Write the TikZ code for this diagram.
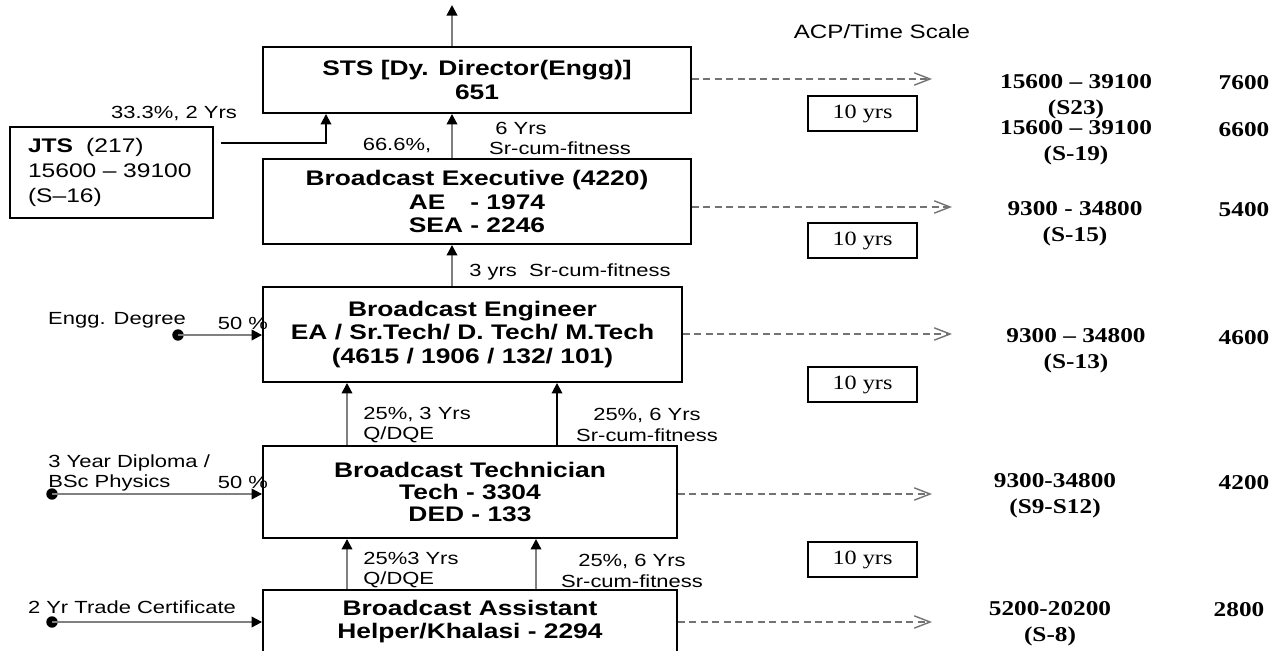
\documentclass[tikz,border=0pt]{standalone}
\usepackage{fontspec}
\setmainfont{Liberation Sans}
\newfontfamily\labf[FakeStretch=1.25]{Liberation Sans}
\newfontfamily\serf[FakeStretch=1.2]{Liberation Serif}
\usetikzlibrary{arrows.meta}
\definecolor{lg}{gray}{0.5}
\definecolor{dg}{gray}{0.45}
\begin{document}
\begin{tikzpicture}[x=0.02cm,y=-0.02cm,
  box/.style={draw=black,line width=1.1pt,inner sep=0pt,align=center,
    font=\labf\bfseries\fontsize{12}{13.6}\selectfont},
  lab/.style={inner sep=0pt,font=\labf\fontsize{10}{11.5}\selectfont},
  pay/.style={inner sep=0pt,align=center,font=\serf\bfseries\fontsize{12}{14.7}\selectfont},
  yrsbox/.style={draw=black,line width=1pt,minimum width=2.18cm,minimum height=0.7cm,
    inner sep=0pt,font=\serf\fontsize{11.5}{13}\selectfont},
  garr/.style={draw=lg,line width=1.2pt,-{Triangle[length=6pt,width=6pt,color=black]}},
  barr/.style={draw=black,line width=1.1pt,-{Triangle[length=6pt,width=6pt]}},
  dsharr/.style={draw=dg,line width=0.8pt,dash pattern=on 4pt off 2.5pt,
    -{Straight Barb[length=9pt,width=7pt,color=dg]}},
  dotnode/.style={circle,fill=black,inner sep=0pt,minimum size=6.5pt}
]
\useasboundingbox (0,0) rectangle (1275,651);

% main boxes
\node[box,minimum width=8.56cm,minimum height=1.32cm] (sts) at (477,80)
  {STS [Dy. Director(Engg)]\\651};
\node[box,minimum width=8.56cm,minimum height=1.7cm] (exec) at (477,201.5)
  {Broadcast Executive (4220)\\\rlap{AE}\phantom{SEA} - 1974\\SEA - 2246};
\node[box,minimum width=8.38cm,minimum height=1.9cm] (eng) at (472.5,334.5)
  {Broadcast Engineer\\EA / Sr.Tech/ D. Tech/ M.Tech\\(4615 / 1906 / 132/ 101)};
\node[box,minimum width=8.28cm,minimum height=1.84cm,
  font=\labf\bfseries\fontsize{12}{12.6}\selectfont] (tech) at (470,492)
  {Broadcast Technician\\Tech - 3304\\DED - 133};
\node[box,minimum width=8.28cm,minimum height=1.26cm,
  font=\labf\bfseries\fontsize{12}{13}\selectfont] (asst) at (470,621.5)
  {Broadcast Assistant\\Helper/Khalasi - 2294};
\node[draw=black,line width=1.1pt,inner xsep=0.36cm,inner ysep=0pt,
  text width=3.34cm,minimum height=1.82cm,align=left,
  font=\labf\fontsize{11.2}{14.2}\selectfont] (jts) at (111.5,172.5)
  {\textbf{JTS}\ \ (217)\\15600 – 39100\\(S–16)};

% 10 yrs boxes
\node[yrsbox] (y1) at (862.5,113.5) {10 yrs};
\node[yrsbox] (y2) at (862.5,240.5) {10 yrs};
\node[yrsbox] (y3) at (862.5,384.5) {10 yrs};
\node[yrsbox] (y4) at (862.5,559.5) {10 yrs};

% title
\node[inner sep=0pt,font=\labf\fontsize{11}{13}\selectfont] (acp) at (882,32) {ACP/Time Scale};

% pay scales
\node[pay] (p1) at (1076,96.5) {15600 – 39100\\(S23)};
\node[pay] (g1) at (1244,83) {7600};
\node[pay] (p2) at (1076,142.5) {15600 – 39100\\(S-19)};
\node[pay] (g2) at (1244,130) {6600};
\node[pay] (p3) at (1075,223.5) {9300 - 34800\\(S-15)};
\node[pay] (g3) at (1244,210) {5400};
\node[pay] (p4) at (1076,350.5) {9300 – 34800\\(S-13)};
\node[pay] (g4) at (1244,338) {4600};
\node[pay] (p5) at (1055,495.5) {9300-34800\\(S9-S12)};
\node[pay] (g5) at (1244,483) {4200};
\node[pay] (p6) at (1050,623.5) {5200-20200\\(S-8)};
\node[pay] (g6) at (1239,610) {2800};

% labels
\node[lab] (l333) at (174,113) {33.3\%, 2 Yrs};
\node[lab] (l666) at (397,145) {66.6\%,};
\node[lab] (l6y) at (521,128) {6 Yrs};
\node[lab] (l6s) at (560,148) {Sr-cum-fitness};
\node[lab] (l3y) at (570,272) {3 yrs\ \ Sr-cum-fitness};
\node[lab] (lengg) at (117,320) {Engg. Degree};
\node[lab] (l50a) at (243,323) {50 \%};
\node[lab,align=left,anchor=west] (l25a) at (363,425) {25\%, 3 Yrs\\Q/DQE};
\node[lab,align=center] (l25b) at (647,425) {25\%, 6 Yrs\\Sr-cum-fitness};
\node[lab,align=left,anchor=west] (ldip) at (48,473) {3 Year Diploma /\\BSc Physics};
\node[lab] (l50b) at (243,482) {50 \%};
\node[lab,align=left,anchor=west] (l25c) at (363,570) {25\%3 Yrs\\Q/DQE};
\node[lab,align=center] (l25d) at (632,571) {25\%, 6 Yrs\\Sr-cum-fitness};
\node[lab] (ltrade) at (132,607) {2 Yr Trade Certificate};

% coordinates
\coordinate (xA) at (452,0);
\coordinate (xL) at (347,0);
\coordinate (xR1) at (557,0);
\coordinate (xR2) at (536,0);
\coordinate (xJ) at (326,0);
\coordinate (topend) at (452,5);
\coordinate (jtsout) at (221,143);

% vertical promotion arrows
\draw[garr] (sts.north -| xA) -- (topend);
\draw[garr] (exec.north -| xA) -- (sts.south -| xA);
\draw[garr] (eng.north -| xA) -- (exec.south -| xA);
\draw[garr] (tech.north -| xL) -- (eng.south -| xL);
\draw[barr] (tech.north -| xR1) -- (eng.south -| xR1);
\draw[garr] (asst.north -| xL) -- (tech.south -| xL);
\draw[garr] (asst.north -| xR2) -- (tech.south -| xR2);
\draw[barr] (jtsout) -| (sts.south -| xJ);

% entry arrows
\node[dotnode] (d1) at (178,335) {};
\node[dotnode] (d2) at (52,494) {};
\node[dotnode] (d3) at (52,622) {};
\draw[garr] (d1.center) -- (d1 -| eng.west);
\draw[garr] (d2.center) -- (d2 -| tech.west);
\draw[garr] (d3.center) -- (d3 -| asst.west);

% dashed ACP arrows
\coordinate (e1) at (932,79);
\coordinate (e2) at (952,207);
\coordinate (e3) at (952,334);
\coordinate (e4) at (932,494);
\coordinate (e5) at (932,622);
\draw[dsharr] (sts.east |- e1) -- (e1);
\draw[dsharr] (exec.east |- e2) -- (e2);
\draw[dsharr] (eng.east |- e3) -- (e3);
\draw[dsharr] (tech.east |- e4) -- (e4);
\draw[dsharr] (asst.east |- e5) -- (e5);
\end{tikzpicture}
\end{document}
